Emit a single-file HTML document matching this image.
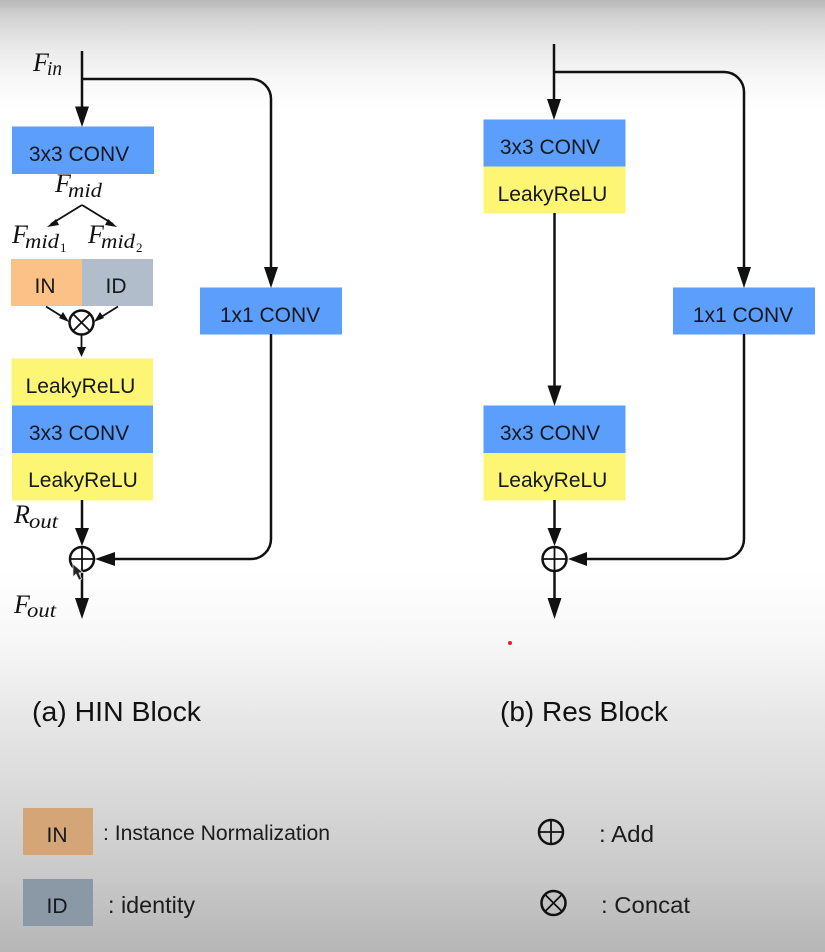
<!DOCTYPE html>
<html><head><meta charset="utf-8"><style>
html,body{margin:0;padding:0;background:#fff}
svg{display:block}
text{font-family:"Liberation Sans",sans-serif;fill:#15181d}
.b{font-size:21px;text-anchor:middle}
.m{font-family:"Liberation Serif",serif;font-style:italic;font-size:26px;fill:#111}
.s{font-family:"Liberation Serif",serif;font-style:italic;font-size:20px;fill:#111}
.ss{font-family:"Liberation Serif",serif;font-size:13px;fill:#111}
.c{font-size:28px;fill:#111}
.l{font-size:23px;fill:#1c1c1c}
.k{fill:none;stroke:#111;stroke-width:2.5}
.t{fill:none;stroke:#111;stroke-width:1.8}
</style></head><body>
<svg width="825" height="952" viewBox="0 0 825 952" xmlns="http://www.w3.org/2000/svg">
<defs>
<linearGradient id="bg" x1="0" y1="0" x2="0" y2="1">
<stop offset="0" stop-color="#b8b8b8"/>
<stop offset="0.017" stop-color="#d2d2d2"/>
<stop offset="0.05" stop-color="#eaeaea"/>
<stop offset="0.085" stop-color="#f8f8f8"/>
<stop offset="0.115" stop-color="#ffffff"/>
<stop offset="0.6" stop-color="#ffffff"/>
<stop offset="0.68" stop-color="#f6f6f6"/>
<stop offset="0.76" stop-color="#e6e6e6"/>
<stop offset="0.83" stop-color="#dadada"/>
<stop offset="0.92" stop-color="#c9c9c9"/>
<stop offset="1" stop-color="#b6b6b6"/>
</linearGradient>
</defs>
<rect width="825" height="952" fill="url(#bg)"/>

<!-- left boxes -->
<rect x="12" y="126.5" width="142" height="47.5" fill="#5b9efb"/>
<rect x="11" y="259" width="71" height="47" fill="#fcc186"/>
<rect x="82" y="259" width="71" height="47" fill="#b1bdca"/>
<rect x="11.5" y="358.5" width="141.500" height="47" fill="#fdf574"/>
<rect x="12" y="405.5" width="141" height="47.500" fill="#5b9efb"/>
<rect x="12" y="453" width="141" height="47.500" fill="#fdf574"/>
<rect x="200" y="287.500" width="142" height="47" fill="#5b9efb"/>

<text class="b" x="79" y="161">3x3 CONV</text>
<text class="b" x="45" y="293">IN</text>
<text class="b" x="116" y="293">ID</text>
<text class="b" x="80.500" y="393">LeakyReLU</text>
<text class="b" x="79" y="440">3x3 CONV</text>
<text class="b" x="83" y="487">LeakyReLU</text>
<text class="b" x="270" y="322">1x1 CONV</text>

<!-- left connectors -->
<path class="k" d="M82 51V110M82 79H251a20 20 0 0 1 20 20V270"/>
<path d="M75 106.500H89L82 127Z M264 267H278L271 288Z" fill="#111"/>
<path class="k" d="M271 334V539a20 20 0 0 1 -20 20H112"/>
<path d="M115 552V566L95 559Z" fill="#111"/>
<path class="k" d="M82 500V530"/>
<path d="M75 528H89L82 546Z" fill="#111"/>
<circle class="k" cx="82" cy="559" r="12"/>
<path class="t" d="M70 559H94M82 547V571"/>
<path class="k" d="M82 571V600"/>
<path d="M75 598H89L82 619Z" fill="#111"/>

<!-- split -->
<path class="t" d="M82 205L51 224M82 205L113 224"/>
<path d="M47 227L56 219L59 225Z M117 227L108 219L105 225Z" fill="#111"/>
<!-- concat -->
<circle class="k" cx="81.500" cy="322.500" r="12"/>
<path class="t" d="M73 314L90 331M90 314L73 331"/>
<path class="t" d="M46 306.500L66 319M118 306.500L98 319"/>
<path d="M69 322L59 318L63 312Z M94 322L104 318L100 312Z" fill="#111"/>
<path class="t" d="M81.500 334V350"/>
<path d="M77 347H86L81.500 357Z" fill="#111"/>

<!-- cursor -->
<path d="M73 564L73 577L76 574L79 580L81.500 579L79 573L83 572.500Z" fill="#222" stroke="#e6e6e6" stroke-width="0.800"/>

<!-- math labels -->
<text class="m" x="33" y="71">F</text><text class="s" x="47" y="75" textLength="15" lengthAdjust="spacingAndGlyphs">in</text>
<text class="m" x="55" y="192">F</text><text class="s" x="68" y="197" textLength="34" lengthAdjust="spacingAndGlyphs">mid</text>
<text class="m" x="12" y="243">F</text><text class="s" x="25" y="248" textLength="34" lengthAdjust="spacingAndGlyphs">mid</text><text class="ss" x="60" y="252">1</text>
<text class="m" x="88" y="243">F</text><text class="s" x="101" y="248" textLength="34" lengthAdjust="spacingAndGlyphs">mid</text><text class="ss" x="136" y="252">2</text>
<text class="m" x="14" y="523">R</text><text class="s" x="29" y="528" textLength="29" lengthAdjust="spacingAndGlyphs">out</text>
<text class="m" x="14" y="613">F</text><text class="s" x="27" y="617" textLength="29" lengthAdjust="spacingAndGlyphs">out</text>

<!-- right boxes -->
<rect x="483.500" y="119.500" width="142" height="47" fill="#5b9efb"/>
<rect x="483.500" y="166.500" width="142" height="47" fill="#fdf574"/>
<rect x="483.500" y="405.500" width="142" height="47.500" fill="#5b9efb"/>
<rect x="483.500" y="453" width="142" height="47.500" fill="#fdf574"/>
<rect x="673" y="287.500" width="142" height="47" fill="#5b9efb"/>

<text class="b" x="550" y="154">3x3 CONV</text>
<text class="b" x="552.500" y="201">LeakyReLU</text>
<text class="b" x="550" y="440">3x3 CONV</text>
<text class="b" x="552.500" y="487">LeakyReLU</text>
<text class="b" x="743" y="322">1x1 CONV</text>

<!-- right connectors -->
<path class="k" d="M554 44V105M554 72H724a20 20 0 0 1 20 20V270"/>
<path d="M547 99H561L554 120Z M737 267H751L744 288Z" fill="#111"/>
<path class="k" d="M554.500 213V390"/>
<path d="M547.500 385.500H561.500L554.500 406Z" fill="#111"/>
<path class="k" d="M744 334V539a20 20 0 0 1 -20 20H585"/>
<path d="M587 552V566L568 559Z" fill="#111"/>
<path class="k" d="M554.500 500V530"/>
<path d="M547.500 528H561.500L554.500 546Z" fill="#111"/>
<circle class="k" cx="554.500" cy="559" r="12"/>
<path class="t" d="M542.500 559H566.500M554.500 547V571"/>
<path class="k" d="M554.500 571V600"/>
<path d="M547.500 598H561.500L554.500 619Z" fill="#111"/>
<circle cx="510" cy="643" r="2" fill="#ee1c1c"/>

<!-- captions -->
<text class="c" x="32" y="721" textLength="169" lengthAdjust="spacingAndGlyphs">(a) HIN Block</text>
<text class="c" x="500" y="721" textLength="168" lengthAdjust="spacingAndGlyphs">(b) Res Block</text>

<!-- legend -->
<rect x="23" y="808" width="70" height="47" fill="#d3a577"/>
<rect x="23" y="879" width="70" height="47" fill="#8b98a6"/>
<text class="b" x="57" y="842">IN</text>
<text class="b" x="57" y="913">ID</text>
<text class="l" x="103" y="840" style="font-size:21px" textLength="227" lengthAdjust="spacingAndGlyphs">: Instance Normalization</text>
<text class="l" x="108" y="913" textLength="87" lengthAdjust="spacingAndGlyphs">: identity</text>
<text class="l" x="599" y="842" textLength="55" lengthAdjust="spacingAndGlyphs">: Add</text>
<text class="l" x="601" y="913" textLength="89" lengthAdjust="spacingAndGlyphs">: Concat</text>
<circle class="k" cx="551" cy="832" r="12"/>
<path class="t" d="M539 832H563M551 820V844"/>
<circle class="k" cx="553.500" cy="903" r="12"/>
<path class="t" d="M545 894.500L562 911.500M562 894.500L545 911.500"/>
</svg>
</body></html>
